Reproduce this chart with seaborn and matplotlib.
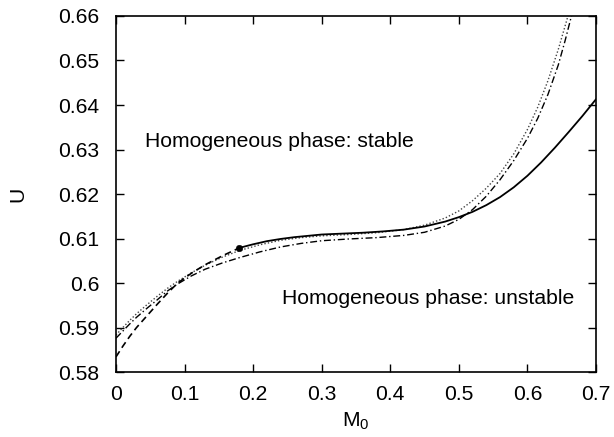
import matplotlib
matplotlib.use("Agg")
import matplotlib.pyplot as plt
import seaborn as sns

# ---- data ----
m_dashed = [0.0, 0.01, 0.02, 0.03, 0.045, 0.06, 0.075, 0.09, 0.11, 0.13, 0.155, 0.18]
u_dashed = [0.5834, 0.5858, 0.5880, 0.5900, 0.5926, 0.5952, 0.5977, 0.6000, 0.6022,
            0.6041, 0.6061, 0.6079]

m_solid = [0.18, 0.20, 0.22, 0.24, 0.26, 0.28, 0.30, 0.33, 0.36, 0.39, 0.42, 0.45, 0.48,
           0.50, 0.52, 0.54, 0.56, 0.58, 0.60, 0.62, 0.64, 0.66, 0.68, 0.70]
u_solid = [0.6079, 0.6087, 0.6094, 0.6099, 0.6103, 0.6106, 0.6109, 0.6111, 0.6113,
           0.6116, 0.6120, 0.6127, 0.6138, 0.6148, 0.6160, 0.6175, 0.6193, 0.6215,
           0.6241, 0.6271, 0.6304, 0.6339, 0.6375, 0.6413]

m_dotted = [0.0, 0.01, 0.02, 0.03, 0.045, 0.06, 0.075, 0.09, 0.11, 0.13, 0.155, 0.18,
            0.21, 0.24, 0.27, 0.30, 0.34, 0.38, 0.42, 0.45, 0.48, 0.50, 0.52, 0.54,
            0.56, 0.58, 0.60, 0.615, 0.63, 0.645, 0.655, 0.66]
u_dotted = [0.5883, 0.5900, 0.5916, 0.5931, 0.5951, 0.5970, 0.5988, 0.6004, 0.6023,
            0.6040, 0.6058, 0.6073, 0.6086, 0.6096, 0.6102, 0.6106, 0.6109, 0.6113,
            0.6120, 0.6130, 0.6146, 0.6162, 0.6185, 0.6213, 0.6246, 0.6290, 0.6345,
            0.6395, 0.6455, 0.6525, 0.6578, 0.6605]

m_dashdot = [0.0, 0.01, 0.02, 0.03, 0.045, 0.06, 0.075, 0.09, 0.11, 0.13, 0.155, 0.18,
             0.21, 0.24, 0.27, 0.30, 0.34, 0.38, 0.42, 0.45, 0.48, 0.50, 0.52, 0.54,
             0.56, 0.58, 0.60, 0.615, 0.63, 0.645, 0.655, 0.665]
u_dashdot = [0.5876, 0.5892, 0.5908, 0.5923, 0.5943, 0.5962, 0.5982, 0.5998, 0.6016,
             0.6031, 0.6045, 0.6057, 0.6070, 0.6081, 0.6089, 0.6095, 0.6099, 0.6102,
             0.6107, 0.6114, 0.6128, 0.6143, 0.6165, 0.6195, 0.6232, 0.6275, 0.6325,
             0.6370, 0.6424, 0.6490, 0.6545, 0.6605]

dot_m = [0.18]
dot_u = [0.6079]

x_ticks = [0, 0.1, 0.2, 0.3, 0.4, 0.5, 0.6, 0.7]
x_labels = ["0", "0.1", "0.2", "0.3", "0.4", "0.5", "0.6", "0.7"]
y_ticks = [0.58, 0.59, 0.60, 0.61, 0.62, 0.63, 0.64, 0.65, 0.66]
y_labels = ["0.58", "0.59", "0.6", "0.61", "0.62", "0.63", "0.64", "0.65", "0.66"]

label_stable = "Homogeneous phase: stable"
label_unstable = "Homogeneous phase: unstable"

# ---- style ----
sns.set_style("ticks")
plt.rcParams["font.family"] = ["Liberation Sans", "DejaVu Sans"]
plt.rcParams["mathtext.fontset"] = "custom"
plt.rcParams["mathtext.rm"] = "Liberation Sans"
plt.rcParams["mathtext.default"] = "regular"
plt.rcParams["text.color"] = "black"
plt.rcParams["axes.labelcolor"] = "black"
plt.rcParams["xtick.color"] = "black"
plt.rcParams["ytick.color"] = "black"

FS = 15.2

fig = plt.figure(figsize=(6.14, 4.37), dpi=100)
ax = fig.add_axes([0.1889, 0.1487, 0.9707 - 0.1889, 0.9634 - 0.1487])

sns.lineplot(x=m_dotted, y=u_dotted, ax=ax, color="#444444", lw=1.0,
             linestyle=(0, (1, 1.5)), sort=False, estimator=None)
sns.lineplot(x=m_dashdot, y=u_dashdot, ax=ax, color="black", lw=1.0,
             linestyle=(0, (5, 2, 1, 2)), sort=False, estimator=None)
sns.lineplot(x=m_dashed, y=u_dashed, ax=ax, color="black", lw=1.2,
             linestyle=(0, (4, 2.5)), sort=False, estimator=None)
sns.lineplot(x=m_solid, y=u_solid, ax=ax, color="black", lw=1.3,
             sort=False, estimator=None)
sns.scatterplot(x=dot_m, y=dot_u, ax=ax, color="black", s=22, zorder=5, edgecolor="black")

ax.set_xlim(0, 0.7)
ax.set_ylim(0.58, 0.66)
ax.set_xticks(x_ticks)
ax.set_xticklabels(x_labels)
ax.set_yticks(y_ticks)
ax.set_yticklabels(y_labels)
ax.tick_params(axis="both", direction="in", length=6, width=1, top=True, right=True,
               labelsize=FS, color="black", labelcolor="black")
ax.tick_params(axis="y", pad=12)
ax.tick_params(axis="x", pad=9)
for s in ax.spines.values():
    s.set_linewidth(1.2)
    s.set_color("black")

ax.set_xlabel("M$_0$", fontsize=FS, labelpad=5)
ax.set_ylabel("U", fontsize=FS, labelpad=22)

ax.text(0.0423, 0.6319, label_stable, fontsize=FS, ha="left", va="center")
ax.text(0.242, 0.5966, label_unstable, fontsize=FS, ha="left", va="center")

fig.savefig("out.png", dpi=100)
